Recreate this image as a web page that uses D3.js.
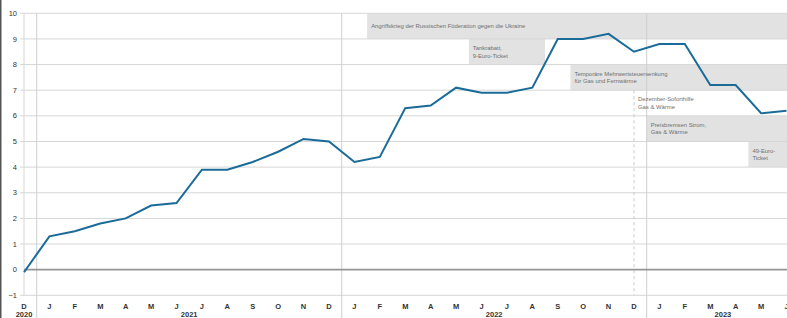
<!DOCTYPE html>
<html>
<head>
<meta charset="utf-8">
<script src="https://cdn.jsdelivr.net/npm/d3@7"></script>
<style>
  body { margin: 0; background: #fff; }
  svg { display: block; font-family: "Liberation Sans", Arial, sans-serif; }
</style>
</head>
<body>
<div id="chart-area"></div>
<script>
const WIDTH = 787;
const HEIGHT = 318;

// months from Dec 2020 to Jun 2023
const monthLetters = ["D", "J", "F", "M", "A", "M", "J", "J", "A", "S", "O", "N", "D",
    "J", "F", "M", "A", "M", "J", "J", "A", "S", "O", "N", "D",
    "J", "F", "M", "A", "M", "J"];
const values = [-0.1, 1.3, 1.5, 1.8, 2.0, 2.5, 2.6, 3.9, 3.9, 4.2, 4.6, 5.1, 5.0,
    4.2, 4.4, 6.3, 6.4, 7.1, 6.9, 6.9, 7.1, 9.0, 9.0, 9.2, 8.5,
    8.8, 8.8, 7.2, 7.2, 6.1, 6.2];
const years = ["2020", "2021", "2022", "2023"];
const yearSpans = [[0, 0], [1, 12], [13, 24], [25, 30]];
const yTicks = [-1, 0, 1, 2, 3, 4, 5, 6, 7, 8, 9, 10];

// measures: label lines, start/end (month index), top value of the band, filled or not
const measureLabels = [
    ["Angriffskrieg der Russischen Föderation gegen die Ukraine"],
    ["Tankrabatt,", "9-Euro-Ticket"],
    ["Temporäre Mehrwertsteuersenkung", "für Gas und Fernwärme"],
    ["Dezember-Soforthilfe", "Gas & Wärme"],
    ["Preisbremsen Strom,", "Gas & Wärme"],
    ["49-Euro-", "Ticket"]
];
const measureStart = [13.5, 17.5, 21.5, 24, 24.5, 28.5];
const measureEnd = [null, 20.5, null, null, null, null];
const measureTop = [10, 9, 8, 7, 6, 5];
const measureFilled = [true, true, true, false, true, true];

const x = d3.scaleLinear().domain([0, 30]).range([24, 786.5]);
const y = d3.scaleLinear().domain([-1, 10]).range([295.3, 13.3]);

const svg = d3.select("#chart-area").append("svg")
    .attr("width", WIDTH)
    .attr("height", HEIGHT);

// annotation bands
const measures = measureLabels.map((lines, i) => ({
    lines, start: measureStart[i], end: measureEnd[i], top: measureTop[i], filled: measureFilled[i]
}));

svg.append("g")
    .selectAll("rect")
    .data(measures.filter(d => d.filled))
    .join("rect")
    .attr("x", d => x(d.start))
    .attr("y", d => y(d.top))
    .attr("width", d => (d.end === null ? WIDTH : x(d.end)) - x(d.start))
    .attr("height", d => y(d.top - 1) - y(d.top))
    .attr("fill", "#e2e2e2");

// horizontal grid
svg.append("g")
    .selectAll("line")
    .data(yTicks.filter(t => t !== 0))
    .join("line")
    .attr("x1", 20)
    .attr("x2", WIDTH)
    .attr("y1", d => y(d))
    .attr("y2", d => y(d))
    .attr("stroke", "#d6d6d6")
    .attr("stroke-width", 1);

// y tick labels
svg.append("g")
    .selectAll("text")
    .data(yTicks)
    .join("text")
    .attr("x", 17)
    .attr("y", d => y(d))
    .attr("dy", "0.35em")
    .attr("text-anchor", "end")
    .attr("font-size", 7.5)
    .attr("fill", "#333")
    .text(d => d < 0 ? "\u2212" + Math.abs(d) : d);

// plot left edge
svg.append("line")
    .attr("x1", x(0)).attr("x2", x(0))
    .attr("y1", y(10)).attr("y2", y(-1))
    .attr("stroke", "#d6d6d6");

// year boundaries
svg.append("g")
    .selectAll("line")
    .data([0.5, 12.5, 24.5])
    .join("line")
    .attr("x1", d => x(d))
    .attr("x2", d => x(d))
    .attr("y1", y(10))
    .attr("y2", HEIGHT)
    .attr("stroke", "#cfcfcf");

// dashed marker for Dezember-Soforthilfe
svg.append("line")
    .attr("x1", x(24)).attr("x2", x(24))
    .attr("y1", y(7)).attr("y2", y(-1))
    .attr("stroke", "#c8c8c8")
    .attr("stroke-dasharray", "3,3");

// zero line
svg.append("line")
    .attr("x1", x(0)).attr("x2", WIDTH)
    .attr("y1", y(0)).attr("y2", y(0))
    .attr("stroke", "#959595")
    .attr("stroke-width", 1.6);

// annotation texts
const mText = svg.append("g")
    .selectAll("text")
    .data(measures)
    .join("text")
    .attr("font-size", 5.9)
    .attr("fill", "#6f6f6f");

mText.selectAll("tspan")
    .data(d => d.lines.map((l, i) => ({ l, i, n: d.lines.length, d })))
    .join("tspan")
    .attr("x", o => x(o.d.start) + 4)
    .attr("y", o => (y(o.d.top) + y(o.d.top - 1)) / 2 + (o.i - (o.n - 1) / 2) * 7.5)
    .attr("dy", "0.35em")
    .text(o => o.l);

// data line
const line = d3.line()
    .x((d, i) => x(i))
    .y(d => y(d));

svg.append("path")
    .datum(values)
    .attr("fill", "none")
    .attr("stroke", "#1a6b98")
    .attr("stroke-width", 2)
    .attr("stroke-linejoin", "miter")
    .attr("d", line);

// month labels
svg.append("g")
    .selectAll("text")
    .data(monthLetters)
    .join("text")
    .attr("x", (d, i) => x(i))
    .attr("y", 306.5)
    .attr("dy", "0.35em")
    .attr("text-anchor", "middle")
    .attr("font-size", 7.5)
    .attr("font-weight", "bold")
    .attr("fill", "#333")
    .text(d => d);

// year labels
svg.append("g")
    .selectAll("text")
    .data(years)
    .join("text")
    .attr("x", (d, i) => (x(yearSpans[i][0]) + x(yearSpans[i][1])) / 2)
    .attr("y", 314.5)
    .attr("dy", "0.35em")
    .attr("text-anchor", "middle")
    .attr("font-size", 7.5)
    .attr("font-weight", "bold")
    .attr("fill", "#333")
    .text(d => d);

// left frame edge
svg.append("line")
    .attr("x1", 0.75).attr("x2", 0.75)
    .attr("y1", 0).attr("y2", HEIGHT)
    .attr("stroke", "#555")
    .attr("stroke-width", 1.5);
</script>
</body>
</html>
